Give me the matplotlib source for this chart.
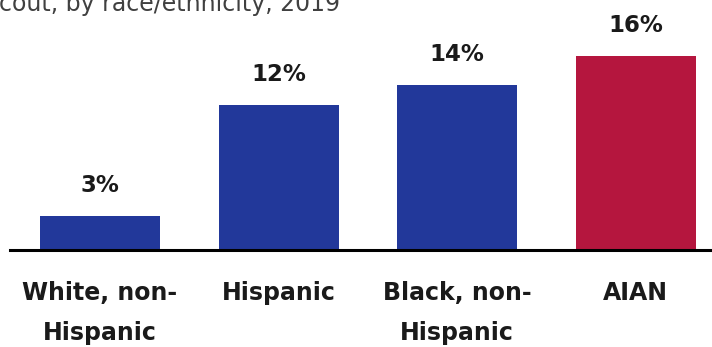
import numpy as np
import matplotlib.pyplot as plt

categories = ["White, non-\nHispanic", "Hispanic", "Black, non-\nHispanic", "AIAN"]
values = [2.8, 11.95, 13.6, 16.0]
bar_colors = ["#22389a", "#22389a", "#22389a", "#b5163e"]
title_text = "cout, by race/ethnicity, 2019"

fig = plt.figure(figsize=(7.12, 3.47), dpi=100)
ax = fig.add_axes([10 / 712, 97 / 347, 702 / 712, 250 / 347])

x = np.arange(len(categories))
bars = ax.bar(x, values, width=120 / 178.5, color=bar_colors, zorder=2)

ax.set_xlim(-90 / 178.5, -90 / 178.5 + 702 / 178.5)
ax.set_ylim(0, 250 / 12.125)

ax.bar_label(bars, labels=[f"{v:.0f}%" for v in values], padding=14,
             fontsize=16.5, fontweight="bold", color="#1a1a1a")

ax.set_xticks(x, categories, fontsize=17, fontweight="bold", color="#1a1a1a",
              linespacing=1.85)
ax.tick_params(axis="x", length=0, pad=22)
ax.set_yticks([])
for s in ["left", "right", "top"]:
    ax.spines[s].set_visible(False)
ax.spines["bottom"].set_linewidth(2.2)
ax.spines["bottom"].set_color("black")

fig.text(-0.002, 1 - 11 / 347, title_text, va="baseline", ha="left",
         fontsize=17, color="#404040")

fig.savefig("out.png", dpi=100)
